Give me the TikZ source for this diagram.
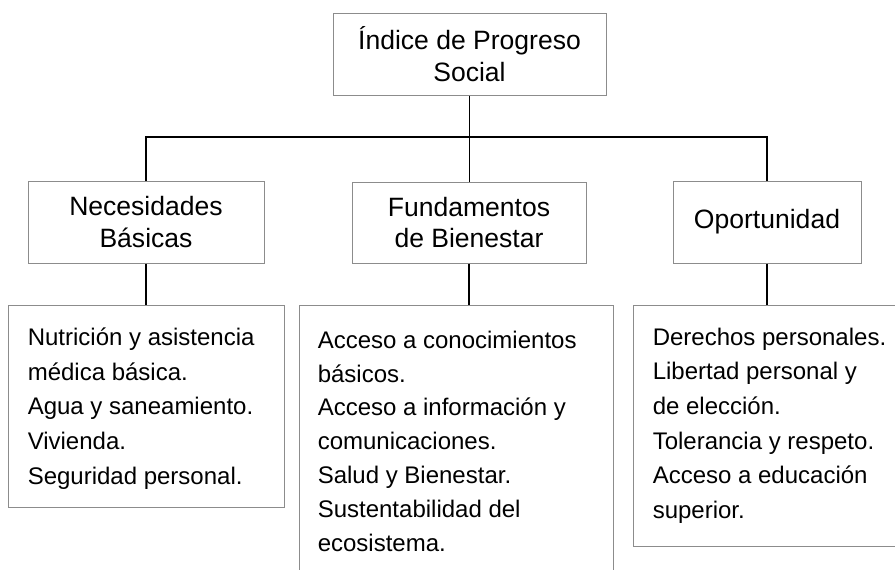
\documentclass[tikz,border=0pt]{standalone}
\usepackage{fontspec}
\setmainfont{Liberation Sans}
\usetikzlibrary{calc}

\begin{document}
\begin{tikzpicture}[x=0.75pt, y=-0.75pt,
		caja/.style={draw=black!45, line width=0.75pt, inner sep=0pt},
		titulo/.style={align=center, font=\fontsize{19.9}{23.6}\selectfont},
		lista/.style={align=left, anchor=north west, inner sep=0pt, font=\fontsize{18}{26}\selectfont},
		linea/.style={line width=1.1pt, color=black}]
		%%%%% START %%%%%
		
		\clip (0, 0) rectangle (895, 569);
		
		\node[caja, titulo, minimum width=204.75pt, minimum height=61.5pt] (ips) at (469.5, 54) {Índice de Progreso\\Social};
		
		\node[caja, titulo, minimum width=177pt, minimum height=61.5pt] (nb) at (146, 222) {Necesidades\\Básicas};
		\node[caja, titulo, minimum width=175.5pt, minimum height=60.75pt] (fb) at (469, 222.5) {Fundamentos\\de Bienestar};
		\node[caja, titulo, minimum width=141pt, minimum height=61.5pt] (op) at (767, 222) {Oportunidad};
		
		\node[caja, minimum width=207pt, minimum height=151.5pt] (nbl) at (146, 406) {};
		\node[caja, minimum width=235.5pt, minimum height=221.25pt] (fbl) at (456, 452.5) {};
		\node[caja, minimum width=215.25pt, minimum height=180.75pt] (opl) at (776.5, 425.5) {};
		
		\coordinate (barra) at (470, 137);
		\draw[linea] (ips.south) -- (ips.south |- fb.north);
		\draw[linea] (nb.north) -- (nb.north |- barra) -- (op.north |- barra) -- (op.north);
		\draw[linea] (nb.south) -- (nb.south |- nbl.north);
		\draw[linea] (fb.south) -- (fb.south |- fbl.north);
		\draw[linea] (op.south) -- (op.south |- opl.north);
		
		\node[lista] (nbt) at ($(nbl.north west)+(20, 23)$) {Nutrición y asistencia\\médica básica.\\Agua y saneamiento.\\Vivienda.\\Seguridad personal.};
		\node[lista, font=\fontsize{18}{25.4}\selectfont] (fbt) at ($(fbl.north west)+(19, 26)$) {Acceso a conocimientos\\básicos.\\Acceso a información y\\comunicaciones.\\Salud y Bienestar.\\Sustentabilidad del\\ecosistema.};
		\node[lista] (opt) at ($(opl.north west)+(20, 23)$) {Derechos personales.\\Libertad personal y\\de elección.\\Tolerancia y respeto.\\Acceso a educación\\superior.};
		
		%%%%% END %%%%%
\end{tikzpicture}
\end{document}
